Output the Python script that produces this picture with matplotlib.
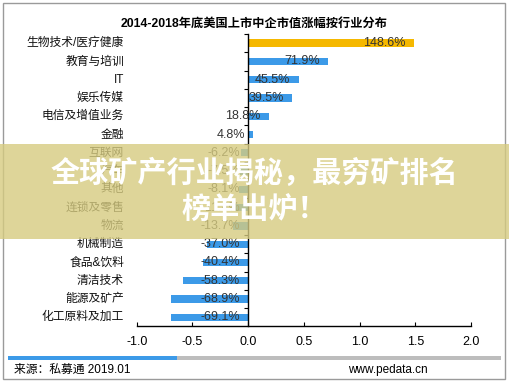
import matplotlib.pyplot as plt
from matplotlib.patches import Rectangle
from matplotlib import transforms

plt.rcParams['font.family'] = ['Liberation Sans', 'Noto Sans CJK SC']

# data, top to bottom
categories = ['生物技术/医疗健康', '教育与培训', 'IT', '娱乐传媒', '电信及增值业务', '金融',
              '互联网', '汽车', '其他', '连锁及零售', '物流', '机械制造', '食品&饮料',
              '清洁技术', '能源及矿产', '化工原料及加工']
values = [1.486, 0.719, 0.455, 0.395, 0.188, 0.048, -0.062, -0.075, -0.081, -0.114,
          -0.137, -0.370, -0.404, -0.583, -0.689, -0.691]
xticks = [-1.0, -0.5, 0.0, 0.5, 1.0, 1.5, 2.0]

title = '2014-2018年底美国上市中企市值涨幅按行业分布'
banner = ['全球矿产行业揭秘，最穷矿排名', '榜单出炉！']
source = '来源：私募通 2019.01'
site = 'www.pedata.cn'

W, H = 509, 384
fig = plt.figure(figsize=(W / 100, H / 100), dpi=100)

def fx(px):
    return px / W

def fy(py):
    return 1 - py / H

# outer frame
fig.add_artist(Rectangle((fx(3), fy(379)), fx(502), 376 / H, transform=fig.transFigure,
                         fill=False, edgecolor='#9a9a9a', lw=1.0))

ax = fig.add_axes([fx(136.7), fy(326.4), fx(334.3), (326.4 - 34) / H])
pos = list(range(len(categories)))
colors = ['#f5b800'] + ['#3c9ae8'] * (len(categories) - 1)
ax.barh(pos, values, height=0.4, color=colors, zorder=2)
ax.set_ylim(len(categories) - 0.5, -0.5)
ax.set_xlim(-1.0, 2.0)

for s in ['top', 'right']:
    ax.spines[s].set_visible(False)
ax.spines['left'].set_position(('data', 0))
ax.spines['left'].set_linewidth(1.0)
ax.spines['bottom'].set_linewidth(1.0)

ax.set_yticks([p + 0.5 for p in pos[:-1]] + [-0.5])
ax.tick_params(axis='y', direction='out', length=3, width=0.8, labelleft=False)
ax.set_xticks(xticks)
ax.set_xticklabels(['%.1f' % t for t in xticks], fontsize=9)
ax.tick_params(axis='x', direction='in', length=3, width=0.8, pad=7)

tr = transforms.blended_transform_factory(ax.transAxes, ax.transData)
for p, c in zip(pos, categories):
    ax.text(-0.038, p, c, transform=tr, ha='right', va='center', fontsize=8.5, color='#111111')

for p, v in zip(pos, values):
    x_end = v if v > 0 else 0
    ax.annotate('%.1f%%' % (v * 100), (x_end, p), xytext=(-6, 0), textcoords='offset points',
                ha='right', va='center', fontsize=9, color='#333333', zorder=3)

fig.text(fx(254), fy(24), title, ha='center', va='center', fontsize=8.8, fontweight='bold')

# footer stripe
fig.add_artist(Rectangle((fx(8), fy(359.5)), fx(169), 3.5 / H, transform=fig.transFigure,
                         color='#3c9ae8', lw=0))
fig.add_artist(Rectangle((fx(177), fy(359.5)), fx(324), 3.5 / H, transform=fig.transFigure,
                         color='#bdbdbd', lw=0))
fig.text(fx(14), fy(370), source, ha='left', va='center', fontsize=8.5)
fig.text(fx(388), fy(370), site, ha='center', va='center', fontsize=8.5)

# overlay banner
fig.add_artist(Rectangle((0, fy(239)), 1, 95 / H, transform=fig.transFigure,
                         color='#d6cb80', alpha=0.8, lw=0, zorder=10))
fig.text(0.5, fy(173), banner[0], ha='center', va='center', fontsize=21, fontweight='bold',
         color='white', zorder=11)
fig.text(0.5, fy(211), banner[1], ha='center', va='center', fontsize=21, fontweight='bold',
         color='white', zorder=11)

fig.savefig('out.png', dpi=100)
